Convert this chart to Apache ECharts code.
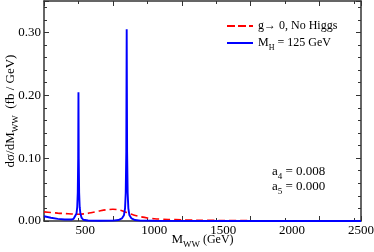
<!DOCTYPE html>
<html><head><meta charset="utf-8">
<script src="https://cdn.jsdelivr.net/npm/echarts@6/dist/echarts.min.js"></script>
<style>html,body{margin:0;padding:0;background:#fff}#c{width:374px;height:252px}</style>
</head><body><div id="c"></div>
<script>
var xTicks = [500, 1000, 1500, 2000, 2500];
var yTicks = ['0.00', '0.10', '0.20', '0.30'];
var noHiggs = [[200,0.0145],[250,0.0135],[300,0.0125],[350,0.0118],[400,0.0112],[450,0.0108],[500,0.0115],[550,0.0135],[600,0.0158],[650,0.0178],[700,0.0186],[750,0.0175],[800,0.0135],[850,0.0095],[900,0.0068],[950,0.0048],[1000,0.0036],[1100,0.0025],[1200,0.0018],[1300,0.0013],[1500,0.0008],[1800,0.0004],[2100,0.0002],[2500,0.0001]];
var higgs = [[200,0.0075],[250,0.0052],[300,0.0034],[350,0.0024],[400,0.0024],[415,0.0035],[428,0.0065],[436,0.012],[441,0.022],[445,0.045],[448,0.1],[450,0.205],[452,0.1],[455,0.045],[459,0.022],[464,0.012],[472,0.0055],[485,0.002],[520,0.0008],[600,0.0004],[700,0.0006],[740,0.0015],[765,0.004],[780,0.009],[788,0.02],[793,0.045],[797,0.11],[800,0.305],[803,0.11],[807,0.045],[812,0.02],[820,0.009],[835,0.004],[860,0.0015],[900,0.0006],[1000,0.0003],[1500,0.0001],[2500,0.0]];
var legendNames = ['g\u2192 0, No Higgs', 'M_H = 125 GeV'];

var serif = 'Liberation Serif';
var chart = echarts.init(document.getElementById('c'));
var axisCol = '#333';
function xAx(pos, show){
  return {type:'value', position:pos, min:200, max:2500, interval:500,
    axisLine:{show:true, onZero:false, lineStyle:{color:axisCol, width:1.5}},
    axisTick:{show:true, inside:true, length:5, lineStyle:{color:axisCol}},
    minorTick:{show:true, splitNumber:2, length:3, lineStyle:{color:axisCol}},
    splitLine:{show:false},
    axisLabel:{show:show, color:'#000', fontFamily:serif, fontSize:13, margin:3,
      customValues: xTicks, formatter:function(v){return xTicks.indexOf(v)>=0? String(v):'';}},
    name: show? '{m|M}{s|WW}{g| (GeV)}' : '', nameLocation:'middle', nameGap:12, nameMoveOverlap:false,
    nameTextStyle:{fontFamily:serif, color:'#000', rich:{
      m:{fontFamily:serif,fontSize:13,color:'#000',verticalAlign:'bottom'},
      s:{fontFamily:serif,fontSize:9,color:'#000',verticalAlign:'bottom',padding:[0,0,-3,0]},
      g:{fontFamily:serif,fontSize:12,color:'#000',verticalAlign:'bottom'}}}
  };
}
function yAx(pos, show){
  return {type:'value', position:pos, min:0, max:0.35, interval:0.1,
    axisLine:{show:true, onZero:false, lineStyle:{color:axisCol, width:1.5}},
    axisTick:{show:true, inside:true, length:5, lineStyle:{color:axisCol}},
    minorTick:{show:true, splitNumber:5, length:3, lineStyle:{color:axisCol}},
    splitLine:{show:false},
    axisLabel:{show:show, color:'#000', fontFamily:serif, fontSize:13, margin:3,
      formatter:function(v){var s=v.toFixed(2); return yTicks.indexOf(s)>=0? s:'';}},
    name: show? '{a|d\u03c3/dM}{s|WW}{a|  (fb / GeV)}' : '', nameLocation:'middle', nameGap:27, nameMoveOverlap:false,
    nameTextStyle:{fontFamily:serif, color:'#000', rich:{
      a:{fontFamily:serif,fontSize:13,color:'#000',verticalAlign:'bottom'},
      s:{fontFamily:serif,fontSize:9,color:'#000',verticalAlign:'bottom',padding:[0,0,-3,0]}}}
  };
}
chart.setOption({
  animation:false,
  backgroundColor:'#fff',
  grid:{left:44, right:13, top:1, bottom:31, containLabel:false, outerBoundsMode:'none'},
  xAxis:[xAx('bottom', true), xAx('top', false)],
  yAxis:[yAx('left', true), yAx('right', false)],
  legend:{orient:'vertical', left:222, top:15, itemWidth:26, itemHeight:2, itemGap:5,
    data:[{name:legendNames[0], icon:'path://M0,0h8v2h-8zM11,0h8v2h-8zM22,0h4v2h-4z', itemStyle:{color:'#ff0000'}},
          {name:legendNames[1], icon:'rect', itemStyle:{color:'#0000ff'}}],
    formatter:function(n){ return n===legendNames[1] ? '{t|M}{s|H}{t| = 125 GeV}' : '{t|'+n+'}'; },
    textStyle:{fontFamily:serif, fontSize:12, color:'#000', rich:{
      t:{fontFamily:serif,fontSize:12,color:'#000',verticalAlign:'bottom'},
      s:{fontFamily:serif,fontSize:8,color:'#000',verticalAlign:'bottom',padding:[0,0,-3,0]}}}
  },
  graphic:[{type:'text', left:272, top:163, style:{rich:{
      t:{fontFamily:serif,fontSize:13,fill:'#000',verticalAlign:'bottom'},
      s:{fontFamily:serif,fontSize:9,fill:'#000',verticalAlign:'bottom',padding:[0,0,-3,0]}},
      text:'{t|a}{s|4}{t| = 0.008}\n{t|a}{s|5}{t| = 0.000}', lineHeight:15}}],
  series:[
    {name:legendNames[0], type:'line', data:noHiggs, showSymbol:false, symbol:'none', smooth:0.3,
      lineStyle:{color:'#ff0000', width:1.6, type:[7,4]}, itemStyle:{color:'#ff0000'}, z:2},
    {name:legendNames[1], type:'line', data:higgs, showSymbol:false, symbol:'none',
      lineStyle:{color:'#0000ff', width:1.9}, itemStyle:{color:'#0000ff'}, z:3}
  ]
});
</script></body></html>
